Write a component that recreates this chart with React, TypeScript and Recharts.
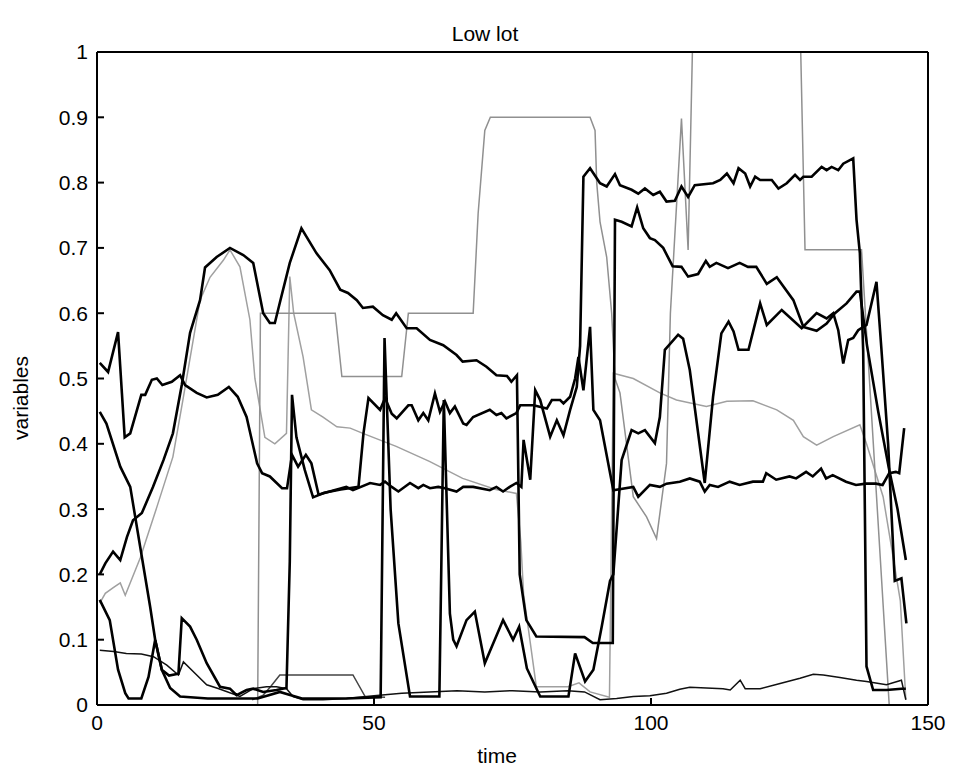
import React from "react";
import { LineChart, Line, XAxis, YAxis } from "recharts";

// each series: [time, value] pairs
const bellSeries = [
  [0.5, 0.2], [1.5, 0.217], [2.9, 0.235], [4.2, 0.222], [5.4, 0.257], [6.5, 0.283], [8.1, 0.294], [10.1, 0.334],
  [12, 0.375], [13.7, 0.416], [15.3, 0.49], [16.8, 0.57], [18.6, 0.62], [19.5, 0.67], [21.6, 0.686], [24, 0.7],
  [26.4, 0.689], [28.2, 0.677], [30, 0.6], [31.2, 0.585], [32.1, 0.585], [33, 0.616], [34.8, 0.677], [36.9, 0.73],
  [39.6, 0.692], [42, 0.666], [43.9, 0.636], [45.3, 0.631], [46.9, 0.62], [48, 0.608], [49.8, 0.61], [51.6, 0.597],
  [53.2, 0.59], [54, 0.6], [55.9, 0.577], [57.7, 0.577], [60.1, 0.559], [62.5, 0.551], [64.9, 0.536], [66, 0.526],
  [68.5, 0.528], [70.3, 0.518], [72.1, 0.505], [74, 0.504], [74.8, 0.495], [75.8, 0.505], [76.3, 0.2], [77.5, 0.13],
  [79.3, 0.105], [88, 0.104], [89.5, 0.095], [93.1, 0.095], [93.5, 0.743], [94.7, 0.74], [96.5, 0.733], [97.5, 0.762],
  [98.6, 0.73], [99.8, 0.715], [100.7, 0.712], [102.2, 0.7], [103.9, 0.672], [105.5, 0.671], [106.7, 0.656],
  [108.5, 0.66], [109.9, 0.68], [110.6, 0.671], [111.8, 0.677], [113.9, 0.669], [116, 0.677], [117.5, 0.671],
  [119, 0.671], [120.9, 0.645], [122.7, 0.655], [125.7, 0.62], [127.5, 0.579], [129.9, 0.573], [131.7, 0.584],
  [133.2, 0.6], [135.3, 0.615], [137.1, 0.633], [137.7, 0.633], [139, 0.55], [141, 0.45], [143, 0.36], [144.5, 0.3],
  [146, 0.222],
];

const halfSeries = [
  [0.5, 0.524], [2, 0.51], [3.8, 0.571], [5, 0.41], [6, 0.416], [8, 0.475], [8.7, 0.475], [9.9, 0.498], [10.8, 0.5],
  [11.8, 0.49], [13.5, 0.495], [15, 0.505], [15.9, 0.49], [18, 0.478], [19.8, 0.471], [21.8, 0.475], [23.8, 0.487],
  [25.4, 0.472], [27, 0.441], [28.9, 0.37], [29.8, 0.355], [31.2, 0.35], [33.4, 0.332], [34.3, 0.332], [35.2, 0.383],
  [36.3, 0.365], [37.7, 0.383], [38.7, 0.37], [40, 0.322], [42, 0.327], [45, 0.334], [46.2, 0.329], [49.3, 0.34],
  [51.1, 0.337], [52, 0.342], [53.2, 0.334], [54.4, 0.327], [56.5, 0.34], [58, 0.332], [58.9, 0.337], [60.1, 0.332],
  [61.6, 0.334], [62.8, 0.332], [64.9, 0.327], [66.1, 0.334], [67.9, 0.334], [70.9, 0.329], [72.1, 0.334],
  [73.3, 0.327], [74.5, 0.334], [75.7, 0.34], [76.6, 0.334], [77, 0.406], [78.2, 0.345], [79.1, 0.482], [80, 0.467],
  [81.8, 0.411], [83, 0.436], [84.2, 0.413], [85.4, 0.452], [86.6, 0.487], [87.2, 0.55], [87.8, 0.809], [89, 0.822],
  [90.8, 0.799], [92, 0.794], [93.5, 0.813], [94.4, 0.796], [96.5, 0.789], [97.7, 0.783], [98.9, 0.791],
  [100.4, 0.781], [101.6, 0.786], [102.8, 0.771], [104.3, 0.772], [105.5, 0.794], [106.7, 0.778], [107.9, 0.796],
  [111.2, 0.799], [112.5, 0.804], [113.7, 0.814], [114.9, 0.799], [115.8, 0.822], [117, 0.814], [117.9, 0.794],
  [118.8, 0.809], [119.7, 0.804], [121.8, 0.804], [123, 0.791], [124.5, 0.799], [126, 0.812], [126.9, 0.804],
  [127.5, 0.809], [129, 0.809], [130.8, 0.824], [131.7, 0.819], [132.6, 0.824], [133.8, 0.819], [134.7, 0.829],
  [136.5, 0.837], [137.1, 0.743], [137.7, 0.692], [138.3, 0.543], [138.9, 0.059], [140.1, 0.023], [142.5, 0.023],
  [145.2, 0.025], [146, 0.025],
];

const spikeSeries = [
  [0.5, 0.449], [1.7, 0.431], [4.2, 0.365], [6, 0.334], [7.8, 0.242], [9.6, 0.15], [10.5, 0.1], [11.7, 0.054],
  [13, 0.045], [14.7, 0.048], [15.3, 0.133], [16.8, 0.12], [18, 0.1], [19.8, 0.064], [22.2, 0.028], [24, 0.025],
  [25.2, 0.015], [27, 0.023], [28.2, 0.025], [30, 0.02], [32.4, 0.023], [34.2, 0.026], [34.8, 0.22], [35.2, 0.475],
  [36, 0.41], [37.5, 0.36], [39, 0.318], [41, 0.325], [44, 0.33], [47.2, 0.334], [48.1, 0.416], [49, 0.47],
  [51.1, 0.452], [52, 0.47], [53.2, 0.446], [54.1, 0.439], [56.2, 0.459], [56.8, 0.459], [58, 0.436], [58.9, 0.447],
  [59.8, 0.436], [61, 0.477], [61.9, 0.449], [62.8, 0.465], [63.7, 0.447], [64.6, 0.457], [66.1, 0.431],
  [66.7, 0.429], [67.9, 0.441], [70.9, 0.452], [72.1, 0.444], [73, 0.447], [73.9, 0.439], [75.7, 0.447],
  [76.4, 0.459], [78.8, 0.459], [81.2, 0.454], [82.1, 0.467], [83.6, 0.467], [84.2, 0.462], [85.4, 0.472],
  [86.3, 0.5], [86.9, 0.533], [87.8, 0.482], [89, 0.579], [89.6, 0.452], [90.8, 0.436], [93.2, 0.329], [96.8, 0.334],
  [97.7, 0.319], [99.8, 0.337], [101.6, 0.334], [102.8, 0.339], [105.2, 0.342], [107, 0.347], [108.8, 0.342],
  [109.7, 0.327], [110.6, 0.337], [112.1, 0.334], [114.2, 0.342], [116, 0.337], [118.4, 0.342], [120.2, 0.342],
  [120.8, 0.355], [122.6, 0.345], [125, 0.35], [126.2, 0.347], [128, 0.357], [129.2, 0.35], [130.7, 0.362],
  [131.6, 0.347], [132.8, 0.352], [135.2, 0.342], [137, 0.337], [138.8, 0.339], [140.6, 0.339], [141.8, 0.337],
  [143, 0.355], [144.2, 0.357], [144.8, 0.355], [145.7, 0.424],
];

const dipSeries = [
  [0.5, 0.161], [2.3, 0.13], [3.8, 0.054], [5.1, 0.018], [5.7, 0.01], [8, 0.01], [9.3, 0.043], [10.5, 0.1],
  [11.7, 0.054], [13.2, 0.026], [15, 0.013], [20, 0.01], [25, 0.01], [29, 0.01], [31, 0.015], [33, 0.02],
  [35, 0.015], [37, 0.01], [45, 0.01], [51.2, 0.012], [51.9, 0.562], [53, 0.3], [54.4, 0.125], [56.5, 0.013],
  [61.8, 0.013], [62.6, 0.467], [63.7, 0.14], [64.3, 0.1], [64.9, 0.09], [66.7, 0.13], [68.2, 0.143], [70, 0.064],
  [73.3, 0.13], [75.1, 0.1], [76.2, 0.12], [77.6, 0.056], [80, 0.013], [85.1, 0.013], [86.3, 0.079], [88.1, 0.036],
  [89.6, 0.054], [91.1, 0.12], [92.6, 0.19], [93.2, 0.2], [94.7, 0.375], [96.5, 0.421], [97.7, 0.416],
  [98.9, 0.421], [100.7, 0.401], [101.6, 0.441], [102.5, 0.544], [104.9, 0.567], [105.8, 0.561], [107, 0.513],
  [109.7, 0.34], [111.2, 0.472], [112.7, 0.569], [114, 0.587], [114.9, 0.572], [115.8, 0.544], [117.6, 0.544],
  [119.7, 0.615], [120.9, 0.582], [123.6, 0.605], [127.2, 0.577], [129.9, 0.6], [131.7, 0.592], [132.9, 0.6],
  [133.8, 0.574], [134.7, 0.523], [135.6, 0.559], [136.5, 0.562], [137.4, 0.574], [138.9, 0.582], [140.7, 0.648],
  [141.6, 0.544], [142.8, 0.4], [144, 0.19], [145.2, 0.194], [146.1, 0.125],
];

const lowSeries = [
  [0.5, 0.084], [3, 0.082], [5.3, 0.079], [8, 0.078], [10.2, 0.074], [12.6, 0.061], [14.7, 0.046], [15.6, 0.066],
  [18, 0.046], [19.8, 0.031], [22, 0.025], [25.8, 0.013], [28.2, 0.025], [30.6, 0.028], [32.4, 0.028], [34.2, 0.025],
  [35.4, 0.013], [37.2, 0.008], [40.8, 0.008], [45, 0.01], [50, 0.014], [55, 0.018], [60, 0.02], [65, 0.022],
  [70, 0.02], [75, 0.022], [80, 0.02], [85, 0.022], [88, 0.02], [90.8, 0.008], [93.8, 0.01], [96.8, 0.013],
  [99.8, 0.014], [102.8, 0.018], [105.2, 0.024], [107, 0.027], [113, 0.025], [114.3, 0.023], [116.1, 0.038],
  [117, 0.025], [119.7, 0.025], [123.3, 0.033], [126.9, 0.041], [129.3, 0.047], [131.1, 0.046], [134.1, 0.042],
  [137.1, 0.038], [138.9, 0.036], [142.5, 0.031], [145.2, 0.038], [146, 0.008],
];

const stepSeries = [
  [0, 0], [29, 0], [29.5, 0.6], [43, 0.6], [44.2, 0.503], [55, 0.503], [56.2, 0.6], [67.9, 0.6], [68.8, 0.753],
  [70, 0.88], [71, 0.9], [89, 0.9], [89.9, 0.88], [90.2, 0.8], [90.8, 0.74], [92, 0.686], [92.9, 0.6], [93.5, 0.5],
  [94.4, 0.478], [96.8, 0.319], [99.2, 0.288], [101, 0.255], [102.8, 0.37], [103.5, 0.6], [105.5, 0.898],
  [106.7, 0.697], [107.6, 1.05], [126.9, 1.05], [127.8, 0.697], [138, 0.697], [143, 0], [146, 0],
];

const greySeries = [
  [0.5, 0.156], [1.5, 0.171], [3, 0.18], [4.2, 0.187], [5.1, 0.168], [7.8, 0.225], [10.8, 0.303], [13.7, 0.38],
  [15.5, 0.467], [18.6, 0.62], [20.4, 0.655], [22.8, 0.681], [24, 0.697], [25.8, 0.671], [27.6, 0.59], [28.5, 0.5],
  [30.3, 0.41], [32.1, 0.4], [34.2, 0.416], [34.8, 0.656], [35.5, 0.6], [37.2, 0.533], [38.7, 0.452], [40.8, 0.441],
  [43.3, 0.426], [45.7, 0.424], [48, 0.416], [54, 0.396], [60, 0.373], [66, 0.347], [72, 0.33], [75.7, 0.324],
  [76.5, 0.25], [77, 0.17], [79.3, 0.028], [85, 0.028], [87, 0.034], [89, 0.02], [92.5, 0.012], [93.2, 0.508],
  [96.8, 0.5], [101.6, 0.478], [104.6, 0.467], [110, 0.457], [113.7, 0.465], [118.4, 0.466], [122.7, 0.452],
  [125.7, 0.436], [127.5, 0.411], [129.9, 0.398], [132.9, 0.411], [137.7, 0.429], [138.9, 0.4], [141.9, 0.319],
  [145, 0.16], [146, 0.008],
];

const boxSeries = [
  [28, 0.008], [30, 0.015], [31.5, 0.03], [33, 0.046], [46.2, 0.046], [48.4, 0.013], [52, 0.012],
];

const xTicks = [0, 50, 100, 150];
const yTicks = [0, 0.1, 0.2, 0.3, 0.4, 0.5, 0.6, 0.7, 0.8, 0.9, 1];

const toPts = (arr: number[][]) => arr.map(([t, v]) => ({ t, v }));

const series = [
  { name: "grey", data: greySeries, color: "#a0a0a0", width: 1.5 },
  { name: "step", data: stepSeries, color: "#909090", width: 1.5 },
  { name: "box", data: boxSeries, color: "#444", width: 1.5 },
  { name: "low", data: lowSeries, color: "#111", width: 1.5 },
  { name: "bell", data: bellSeries, color: "#000", width: 2.6 },
  { name: "half", data: halfSeries, color: "#000", width: 2.6 },
  { name: "spike", data: spikeSeries, color: "#000", width: 2.6 },
  { name: "dip", data: dipSeries, color: "#000", width: 2.6 },
];

const font = '"Liberation Sans", Arial, Helvetica, sans-serif';
const tickStyle = { fill: "#000", fontSize: 21, fontFamily: font };

export default function App() {
  return (
    <div style={{ position: "fixed", left: 0, top: 0, width: 953, height: 770, background: "#fff" }}>
      <LineChart width={953} height={770} margin={{ top: 51, right: 0, bottom: 0, left: 0 }}>
        <XAxis
          xAxisId="b"
          type="number"
          dataKey="t"
          domain={[0, 150]}
          ticks={xTicks}
          height={65}
          tickSize={-7}
          tickMargin={17}
          stroke="#000"
          strokeWidth={2}
          tick={tickStyle}
          allowDataOverflow
        />
        <XAxis
          xAxisId="t"
          orientation="top"
          type="number"
          dataKey="t"
          domain={[0, 150]}
          ticks={xTicks}
          height={1}
          tickSize={-7}
          tickFormatter={() => ""}
          stroke="#000"
          strokeWidth={2}
        />
        <YAxis
          yAxisId="l"
          type="number"
          domain={[0, 1]}
          ticks={yTicks}
          width={97}
          tickSize={-7}
          tickMargin={16}
          stroke="#000"
          strokeWidth={2}
          tick={tickStyle}
          allowDataOverflow
        />
        <YAxis
          yAxisId="r"
          orientation="right"
          type="number"
          domain={[0, 1]}
          ticks={yTicks}
          width={25}
          tickSize={-7}
          tickFormatter={() => ""}
          stroke="#000"
          strokeWidth={2}
        />
        {series.map((s) => (
          <Line
            key={s.name}
            data={toPts(s.data)}
            dataKey="v"
            xAxisId="b"
            yAxisId="l"
            type="linear"
            dot={false}
            stroke={s.color}
            strokeWidth={s.width}
            isAnimationActive={false}
          />
        ))}
      </LineChart>
      <svg
        width={953}
        height={770}
        style={{ position: "absolute", left: 0, top: 0, pointerEvents: "none" }}
      >
        <text x={485} y={41} textAnchor="middle" fontSize={21} fontFamily={font} fill="#000">
          Low lot
        </text>
        <text x={497} y={763} textAnchor="middle" fontSize={21} fontFamily={font} fill="#000">
          time
        </text>
        <text
          x={28}
          y={398}
          textAnchor="middle"
          fontSize={21}
          fontFamily={font}
          fill="#000"
          transform="rotate(-90 28 398)"
        >
          variables
        </text>
      </svg>
    </div>
  );
}
